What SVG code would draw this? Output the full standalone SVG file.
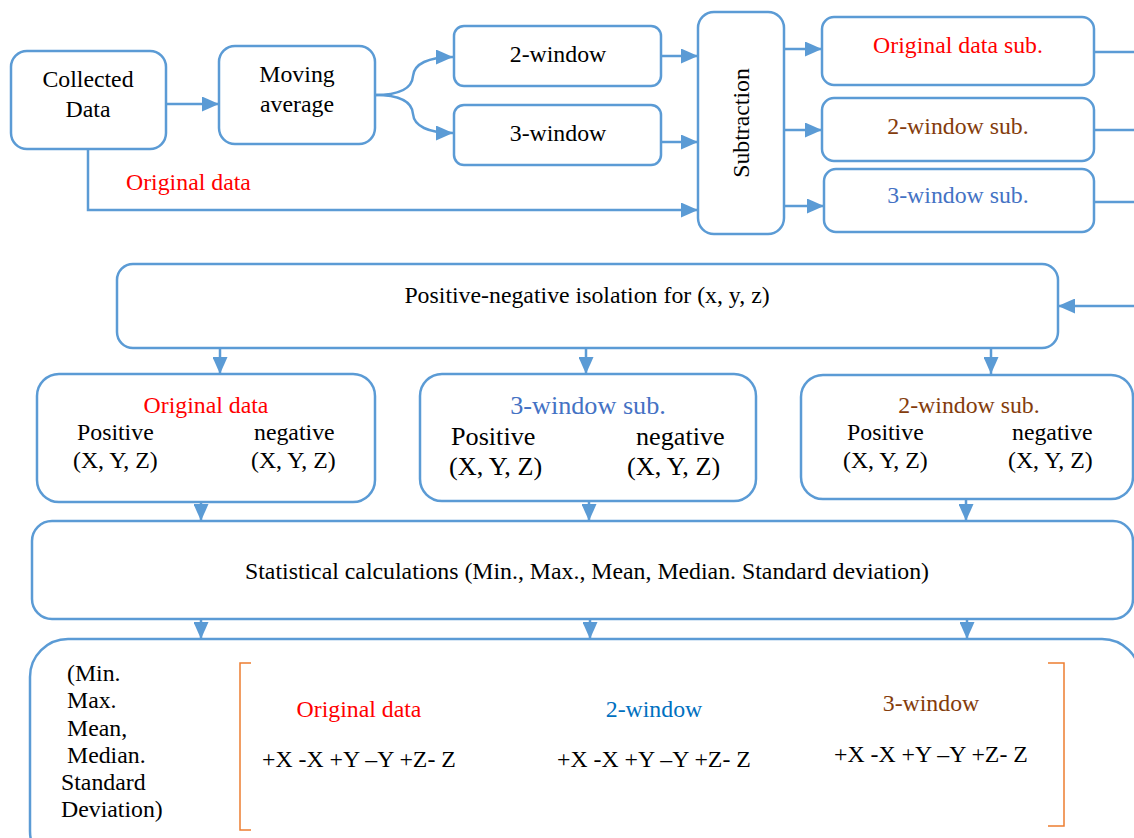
<svg xmlns="http://www.w3.org/2000/svg" width="1134" height="838" viewBox="0 0 1134 838" font-family="'Liberation Serif', 'DejaVu Serif', serif">
<defs>
<marker id="ah" markerUnits="userSpaceOnUse" markerWidth="17" markerHeight="15" refX="17" refY="7.5" orient="auto">
<path d="M0,0 L17,7.5 L0,15 z" fill="#5B9BD5"/>
</marker>
<style>
.box{fill:#fff;stroke:#5B9BD5;stroke-width:2.5}
.ln{fill:none;stroke:#5B9BD5;stroke-width:2.5}
.arr{fill:none;stroke:#5B9BD5;stroke-width:2.5;marker-end:url(#ah)}
text{font-family:'Liberation Serif', 'DejaVu Serif', serif;font-size:23.8px;fill:#000}
.c{text-anchor:middle}
.red{fill:#FF0000}
.brown{fill:#843C0C}
.blue{fill:#4472C4}
.blue2{fill:#0070C0}
.big{font-size:26.2px}
.br{fill:none;stroke:#ED7D31;stroke-width:1.5}
</style>
</defs>
<rect width="1134" height="838" fill="#fff"/>

<g id="connectors">
<path class="arr" d="M166,104 L219,104"/>
<path class="arr" d="M375,95 C398,95 412,90 413,76 C414,64 428,57 453,57"/>
<path class="arr" d="M375,95 C398,95 412,100 413,114 C414,126 428,133 453,133"/>
<path class="arr" d="M661,56 L698,56"/>
<path class="arr" d="M661,142 L698,142"/>
<path class="arr" d="M88,149 L88,210 L698,210"/>
<path class="arr" d="M784,49 L822,49"/>
<path class="arr" d="M784,130 L822,130"/>
<path class="arr" d="M784,206 L824,206"/>
<path class="ln" d="M1094,52 L1134,52"/>
<path class="ln" d="M1094,130 L1134,130"/>
<path class="ln" d="M1094,202 L1134,202"/>
<path class="arr" d="M1134,306 L1058,306"/>
<path class="arr" d="M220,347 L220,374"/>
<path class="arr" d="M586,347 L586,374"/>
<path class="arr" d="M991,347 L991,374"/>
<path class="arr" d="M201,500 L201,521"/>
<path class="arr" d="M589,500 L589,521"/>
<path class="arr" d="M966,499 L966,521"/>
<path class="arr" d="M201,619 L201,639"/>
<path class="arr" d="M590,619 L590,639"/>
<path class="arr" d="M967,619 L967,639"/>
</g>

<g id="collected">
<rect class="box" x="11" y="51" width="155" height="98" rx="16"/>
<text class="c" x="88" y="87">Collected</text>
<text class="c" x="88" y="117">Data</text>
</g>
<g id="moving">
<rect class="box" x="219" y="46" width="156" height="98" rx="16"/>
<text class="c" x="297" y="82">Moving</text>
<text class="c" x="297" y="112">average</text>
</g>
<text class="red" x="126" y="190">Original data</text>
<g id="win2">
<rect class="box" x="454" y="26" width="207" height="60" rx="10"/>
<text class="c" x="558" y="62">2-window</text>
</g>
<g id="win3">
<rect class="box" x="454" y="105" width="207" height="60" rx="10"/>
<text class="c" x="558" y="141">3-window</text>
</g>
<g id="subtraction">
<rect class="box" x="698" y="12" width="86" height="222" rx="16"/>
<text class="c" transform="translate(749,123) rotate(-90)">Subtraction</text>
</g>
<g id="origsub">
<rect class="box" x="822" y="17" width="272" height="68" rx="12"/>
<text class="c red" x="958" y="53">Original data sub.</text>
</g>
<g id="w2sub">
<rect class="box" x="822" y="98" width="272" height="63" rx="12"/>
<text class="c brown" x="958" y="134">2-window sub.</text>
</g>
<g id="w3sub">
<rect class="box" x="824" y="169" width="270" height="63" rx="12"/>
<text class="c blue" x="958" y="203">3-window sub.</text>
</g>

<g id="posneg">
<rect class="box" x="117" y="264" width="941" height="84" rx="16"/>
<text class="c" x="587" y="303">Positive-negative isolation for (x, y, z)</text>
</g>

<g id="row-orig">
<rect class="box" x="37" y="374" width="338" height="128" rx="22"/>
<text class="c red" x="206" y="413">Original data</text>
<text x="77" y="440">Positive</text>
<text x="254" y="440">negative</text>
<text x="73" y="468">(X, Y, Z)</text>
<text x="251" y="468">(X, Y, Z)</text>
</g>
<g id="row-w3">
<rect class="box" x="420" y="374" width="336" height="127" rx="22"/>
<text class="c blue big" x="588" y="414">3-window sub.</text>
<text class="big" x="451" y="445">Positive</text>
<text class="big" x="636" y="445">negative</text>
<text class="big" x="449" y="475">(X, Y, Z)</text>
<text class="big" x="627" y="475">(X, Y, Z)</text>
</g>
<g id="row-w2">
<rect class="box" x="801" y="375" width="332" height="124" rx="22"/>
<text class="c brown" x="969" y="413">2-window sub.</text>
<text x="847" y="440">Positive</text>
<text x="1012" y="440">negative</text>
<text x="843" y="468">(X, Y, Z)</text>
<text x="1008" y="468">(X, Y, Z)</text>
</g>

<g id="stats">
<rect class="box" x="32" y="521" width="1101" height="98" rx="20"/>
<text class="c" x="587" y="579">Statistical calculations (Min., Max., Mean, Median. Standard deviation)</text>
</g>

<g id="results">
<rect class="box" x="30" y="639" width="1110" height="230" rx="38"/>
<text x="67" y="681">(Min.</text>
<text x="67" y="708">Max.</text>
<text x="67" y="736">Mean,</text>
<text x="67" y="763">Median.</text>
<text x="61" y="790">Standard</text>
<text x="61" y="817">Deviation)</text>
<path class="br" d="M251,663 L240,663 L240,830 L251,830"/>
<path class="br" d="M1048,663 L1064,663 L1064,826 L1048,826"/>
<text class="c red" x="359" y="717">Original data</text>
<text x="262" y="767">+X -X +Y –Y +Z- Z</text>
<text class="c blue2" x="654" y="717">2-window</text>
<text x="557" y="767">+X -X +Y –Y +Z- Z</text>
<text class="c brown" x="931" y="711">3-window</text>
<text x="834" y="762">+X -X +Y –Y +Z- Z</text>
</g>
</svg>
